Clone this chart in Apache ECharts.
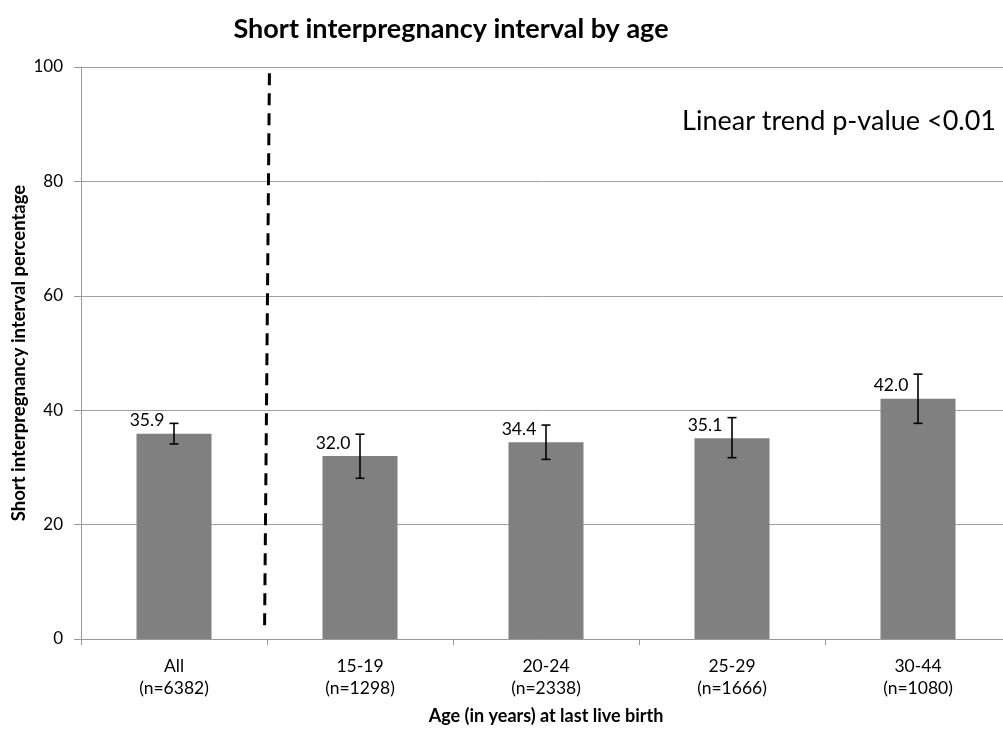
<!DOCTYPE html>
<html>
<head>
<meta charset="utf-8">
<script src="https://cdn.jsdelivr.net/npm/echarts@6/dist/echarts.min.js"></script>
<style>html,body{margin:0;padding:0;background:#fff;}#c{width:1003px;height:730px;}</style>
</head>
<body>
<div id="c"></div>
<script>
const categories = ['All\n(n=6382)', '15-19\n(n=1298)', '20-24\n(n=2338)', '25-29\n(n=1666)', '30-44\n(n=1080)'];
const percentages = [35.9, 32.0, 34.4, 35.1, 42.0];
const ciLow = [34.1, 28.1, 31.4, 31.7, 37.7];
const ciHigh = [37.7, 35.8, 37.4, 38.7, 46.3];
const yTicks = [0, 20, 40, 60, 80, 100];
const dividerLine = [[1.013, 98.9], [0.987, 2.1]];

const errData = categories.map((c, i) => [i, ciLow[i], ciHigh[i]]);
const FONT = 'Lato';

const chart = echarts.init(document.getElementById('c'), null, {renderer: 'canvas'});
chart.setOption({
  backgroundColor: '#ffffff',
  animation: false,
  textStyle: {fontFamily: FONT},
  title: {
    text: 'Short interpregnancy interval by age',
    left: 446, top: 11, textAlign: 'center',
    textStyle: {fontFamily: FONT, fontWeight: 'bold', fontSize: 27, color: '#000'}
  },
  graphic: [
    {type: 'text', right: 7, top: 108, style: {text: 'Linear trend p-value <0.01', font: '27px Lato', fill: '#000'}}
  ],
  grid: {left: 81, top: 67, width: 930, bottom: 91, containLabel: false, outerBoundsMode: 'none'},
  xAxis: [
    {
      type: 'category', data: categories, boundaryGap: true,
      name: 'Age (in years) at last live birth', nameLocation: 'middle', nameGap: 68, nameMoveOverlap: false,
      nameTextStyle: {fontFamily: FONT, fontWeight: 'bold', fontSize: 18, color: '#000'},
      axisLine: {lineStyle: {color: '#999', width: 1}},
      axisTick: {show: true, interval: 0, length: 6, lineStyle: {color: '#999'}},
      axisLabel: {interval: 0, fontSize: 17.5, color: '#000', lineHeight: 22, margin: 16, fontFamily: FONT},
      splitLine: {show: false}
    },
    {type: 'value', min: 0, max: 5, show: false}
  ],
  yAxis: {
    type: 'value', min: 0, max: 100, interval: 20,
    name: 'Short interpregnancy interval percentage', nameLocation: 'middle', nameGap: 52, nameMoveOverlap: false,
    nameTextStyle: {fontFamily: FONT, fontWeight: 'bold', fontSize: 18.5, color: '#000'},
    axisLine: {show: true, lineStyle: {color: '#999'}},
    axisTick: {show: true, length: 7, lineStyle: {color: '#999'}},
    axisLabel: {fontSize: 17, color: '#000', margin: 18, fontFamily: FONT,
      formatter: v => yTicks.includes(v) ? String(v) : ''},
    splitLine: {show: true, lineStyle: {color: '#a0a0a0', width: 1}}
  },
  series: [
    {
      type: 'bar', data: percentages, barWidth: 75, xAxisIndex: 0,
      itemStyle: {color: '#808080'},
      label: {show: true, position: 'top', offset: [-27, 1], fontSize: 17.5, color: '#000', fontFamily: FONT,
        formatter: p => p.value.toFixed(1)},
      z: 2
    },
    {
      type: 'custom', xAxisIndex: 0, data: errData, encode: {x: 0, y: [1, 2]}, z: 5,
      renderItem: function (params, api) {
        const x = api.value(0);
        const lo = api.coord([x, api.value(1)]);
        const hi = api.coord([x, api.value(2)]);
        const cx = lo[0];
        const hw = 4.5;
        const st = {stroke: '#000', lineWidth: 1.6};
        return {type: 'group', children: [
          {type: 'line', shape: {x1: cx, y1: lo[1], x2: cx, y2: hi[1]}, style: st},
          {type: 'line', shape: {x1: cx - hw, y1: lo[1], x2: cx + hw, y2: lo[1]}, style: st},
          {type: 'line', shape: {x1: cx - hw, y1: hi[1], x2: cx + hw, y2: hi[1]}, style: st}
        ]};
      }
    },
    {
      type: 'line', xAxisIndex: 1, data: dividerLine, symbol: 'none', z: 6,
      lineStyle: {color: '#000', width: 3, type: [12, 8]}
    }
  ]
});
</script>
</body>
</html>
